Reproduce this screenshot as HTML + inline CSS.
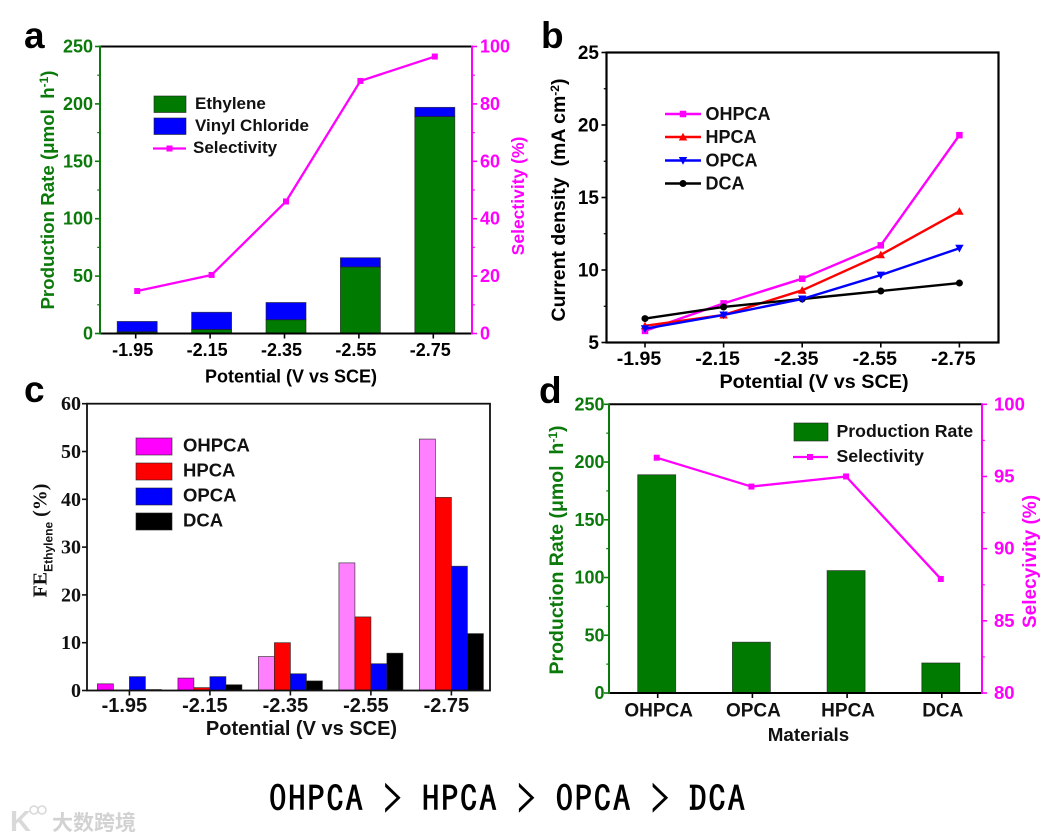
<!DOCTYPE html>
<html lang="en">
<head>
<meta charset="utf-8">
<title>Electrocatalysis comparison charts</title>
<style>
html,body{margin:0;padding:0;background:#fff;width:1046px;height:840px;overflow:hidden}
svg{display:block;font-family:"Liberation Sans",Arial,sans-serif;font-weight:bold}
</style>
</head>
<body>
<svg id="fig" xmlns="http://www.w3.org/2000/svg" width="1046" height="840" viewBox="0 0 1046 840"></svg>
<script>
// Shared categories
const potentials = ['-1.95', '-2.15', '-2.35', '-2.55', '-2.75'];
const materials = ['OHPCA', 'OPCA', 'HPCA', 'DCA'];

// Panel a
const aEthylene = [1.5, 3.5, 12, 58, 189];
const aVinylChloride = [9, 15, 15, 8, 8];
const aSelectivity = [14.8, 20.4, 46, 88, 96.5];
const aLeftTicks = [0, 50, 100, 150, 200, 250];
const aRightTicks = [0, 20, 40, 60, 80, 100];

// Panel b
const bOHPCA = [5.8, 7.7, 9.4, 11.7, 19.3];
const bHPCA = [6.15, 6.9, 8.6, 11.05, 14.05];
const bOPCA = [5.95, 6.9, 8.0, 9.65, 11.5];
const bDCA = [6.65, 7.45, 8.0, 8.55, 9.1];
const bTicks = [5, 10, 15, 20, 25];

// Panel c
const cOHPCA = [1.4, 2.6, 7.1, 26.7, 52.6];
const cHPCA = [0.1, 0.6, 10, 15.4, 40.4];
const cOPCA = [2.9, 2.9, 3.5, 5.6, 26];
const cDCA = [0.2, 1.2, 2, 7.8, 11.9];
const cTicks = [0, 10, 20, 30, 40, 50, 60];

// Panel d
const dRate = [189, 44, 106, 26];
const dSelectivity = [96.3, 94.3, 95, 87.9];
const dLeftTicks = [0, 50, 100, 150, 200, 250];
const dRightTicks = [80, 85, 90, 95, 100];

const GREEN = '#0b7a0b', BAR_GREEN = '#007a00', MAG = '#ff00ff', BLUE = '#0000ff', RED = '#ff0000';
const NS = 'http://www.w3.org/2000/svg';
const svg = document.getElementById('fig');

function mk(tag, attrs, name, parent) {
  const el = document.createElementNS(NS, tag);
  for (const k in attrs) el.setAttribute(k, attrs[k]);
  
  
  (parent || svg).appendChild(el);
  return el;
}
function line(x1, y1, x2, y2, color, w, name) {
  return mk('line', {x1: x1, y1: y1, x2: x2, y2: y2, stroke: color, 'stroke-width': w}, name);
}
function rect(x, y, w, h, fill, name, stroke) {
  return mk('rect', {x: x, y: y, width: w, height: h, fill: fill, stroke: stroke || '#222', 'stroke-width': 0.8, 'stroke-opacity': 0.75}, name);
}
function text(x, y, str, size, color, anchor, name, extra) {
  const a = Object.assign({x: x, y: y, 'font-size': size, fill: color, 'text-anchor': anchor || 'start'}, extra || {});
  const el = mk('text', a, name);
  el.textContent = str;
  return el;
}
function vtext(x, y, parts, size, color, name, extra) {
  // rotated label built from [string, dy, size] parts
  const a = Object.assign({x: 0, y: 0, 'font-size': size, fill: color, 'text-anchor': 'middle',
    style: 'white-space:pre',
    transform: 'translate(' + x + ',' + y + ') rotate(-90)'}, extra || {});
  const el = mk('text', a, name);
  parts.forEach(function (p, i) {
    const t = document.createElementNS(NS, 'tspan');
    t.textContent = p.s;
    if (p.dy) t.setAttribute('dy', p.dy);
    if (p.size) t.setAttribute('font-size', p.size);
    if (p.family) t.setAttribute('font-family', p.family);
    
    
    el.appendChild(t);
  });
  return el;
}
function marker(kind, x, y, color, s, name) {
  if (kind === 'square') return mk('rect', {x: x - s / 2, y: y - s / 2, width: s, height: s, fill: color}, name);
  if (kind === 'circle') return mk('circle', {cx: x, cy: y, r: s / 2, fill: color}, name);
  const d = kind === 'up' ? 1 : -1;
  const pts = [x - s * 0.6, y + d * s * 0.5, x + s * 0.6, y + d * s * 0.5, x, y - d * s * 0.6].join(' ');
  return mk('polygon', {points: pts, fill: color}, name);
}
function polyline(xs, ys, color, w, name) {
  const pts = xs.map(function (x, i) { return x + ',' + ys[i]; }).join(' ');
  return mk('polyline', {points: pts, fill: 'none', stroke: color, 'stroke-width': w, 'stroke-linejoin': 'round'}, name);
}
function linear(d0, d1, r0, r1) {
  return function (v) { return r0 + (v - d0) * (r1 - r0) / (d1 - d0); };
}
function band(first, step) {
  return function (i) { return first + i * step; };
}
function yTicks(ticks, y, x, dir, color, len, name) {
  ticks.forEach(function (t) { line(x, y(t), x + dir * len, y(t), color, 1.6, name + '-tick'); });
  for (let i = 0; i < ticks.length - 1; i++) {
    const m = (ticks[i] + ticks[i + 1]) / 2;
    line(x, y(m), x + dir * len * 0.55, y(m), color, 1.2, name + '-minor-tick');
  }
}

/* ---------- Panel a ---------- */
(function () {
  const L = 100, R = 472, T = 46.5, B = 333.5;
  const x = band(137.2, 74.4);
  const yL = linear(0, 250, B, T), yR = linear(0, 100, B, T);
  const w = 40;
  potentials.forEach(function (p, i) {
    const top = aEthylene[i] + aVinylChloride[i];
    rect(x(i) - w / 2, yL(aEthylene[i]), w, B - yL(aEthylene[i]), BAR_GREEN, 'bar-ethylene-' + p);
    rect(x(i) - w / 2, yL(top), w, yL(aEthylene[i]) - yL(top), BLUE, 'bar-vinyl-chloride-' + p);
  });
  line(L, T, R, T, '#000', 2, 'a-top-axis');
  line(L, B, R, B, '#000', 2, 'a-x-axis');
  line(L, T - 1, L, B + 1, GREEN, 2, 'a-left-axis');
  line(R, T - 1, R, B + 1, MAG, 2, 'a-right-axis');
  yTicks(aLeftTicks, yL, L, -1, GREEN, 5, 'a-left');
  yTicks(aRightTicks, yR, R, 1, MAG, 5, 'a-right');
  aLeftTicks.forEach(function (t) { text(93, yL(t) + 6, String(t), 18, GREEN, 'end', 'a-left-tick-label'); });
  aRightTicks.forEach(function (t) { text(480, yR(t) + 6, String(t), 18, MAG, 'start', 'a-right-tick-label'); });
  potentials.forEach(function (p, i) {
    line(x(i) - 1.5, B, x(i) - 1.5, B + 5, '#000', 1.6, 'a-x-tick');
    text(x(i) - 4.5, 356, p, 18, '#000', 'middle', 'a-x-tick-label');
  });
  polyline(potentials.map(function (p, i) { return x(i); }), aSelectivity.map(yR), MAG, 2.3, 'a-selectivity-line');
  aSelectivity.forEach(function (v, i) { marker('square', x(i), yR(v), MAG, 6, 'a-selectivity-point'); });
  text(291, 382.5, 'Potential (V vs SCE)', 18, '#000', 'middle', 'a-x-axis-title');
  vtext(54, 190, [{s: 'Production Rate (μmol  h'}, {s: '-1', dy: -6, size: 12}, {s: ')', dy: 6}], 18.7, GREEN, 'a-left-axis-title');
  vtext(524, 196, [{s: 'Selectivity (%)'}], 17.5, MAG, 'a-right-axis-title');
  rect(154, 96, 32, 16.5, BAR_GREEN, 'a-legend-ethylene-swatch');
  rect(154, 118, 32, 16.5, BLUE, 'a-legend-vinyl-swatch');
  line(153, 148.5, 186, 148.5, MAG, 2.3, 'a-legend-selectivity-line');
  marker('square', 169.5, 148.5, MAG, 6, 'a-legend-selectivity-marker');
  text(195, 109, 'Ethylene', 17, '#111', 'start', 'a-legend-ethylene');
  text(195, 131, 'Vinyl Chloride', 17, '#111', 'start', 'a-legend-vinyl-chloride');
  text(193, 153, 'Selectivity', 17, '#111', 'start', 'a-legend-selectivity');
  text(24, 48, 'a', 37, '#000', 'start', 'panel-label-a');
})();

/* ---------- Panel b ---------- */
(function () {
  const L = 606.5, R = 998.5, T = 52.5, B = 342.5;
  const x = band(645, 78.6);
  const y = linear(5, 25, B, T);
  mk('rect', {x: L, y: T, width: R - L, height: B - T, fill: 'none', stroke: '#000', 'stroke-width': 2.2}, 'b-plot-frame');
  yTicks(bTicks, y, L, -1, '#000', 5, 'b-y');
  bTicks.forEach(function (t) { text(599, y(t) + 6.5, String(t), 19, '#000', 'end', 'b-y-tick-label'); });
  potentials.forEach(function (p, i) {
    line(x(i), B, x(i), B + 5, '#000', 1.6, 'b-x-tick');
    text(x(i) - 6, 365, p, 19.5, '#000', 'middle', 'b-x-tick-label');
  });
  const xs = potentials.map(function (p, i) { return x(i); });
  const series = [
    {n: 'ohpca', v: bOHPCA, c: MAG, m: 'square', s: 6.5},
    {n: 'hpca', v: bHPCA, c: RED, m: 'up', s: 7},
    {n: 'dca', v: bDCA, c: '#000', m: 'circle', s: 7},
    {n: 'opca', v: bOPCA, c: BLUE, m: 'down', s: 7}
  ];
  series.forEach(function (d) {
    polyline(xs, d.v.map(y), d.c, 2.4, 'b-line-' + d.n);
    d.v.forEach(function (v, i) { marker(d.m, x(i), y(v), d.c, d.s, 'b-point-' + d.n); });
  });
  const leg = [
    {t: 'OHPCA', c: MAG, m: 'square', s: 6.5, y: 114},
    {t: 'HPCA', c: RED, m: 'up', s: 7, y: 137},
    {t: 'OPCA', c: BLUE, m: 'down', s: 7, y: 160.5},
    {t: 'DCA', c: '#000', m: 'circle', s: 7, y: 183.5}
  ];
  leg.forEach(function (l) {
    line(665, l.y, 701, l.y, l.c, 2.4, 'b-legend-line-' + l.t.toLowerCase());
    marker(l.m, 683, l.y, l.c, l.s, 'b-legend-marker-' + l.t.toLowerCase());
    text(705.5, l.y + 5.8, l.t, 18, '#111', 'start', 'b-legend-' + l.t.toLowerCase());
  });
  text(814, 388, 'Potential (V vs SCE)', 19.8, '#000', 'middle', 'b-x-axis-title');
  vtext(565, 200, [{s: 'Current density  (mA cm'}, {s: '-2', dy: -6, size: 12}, {s: ')', dy: 6}], 19.5, '#000', 'b-y-axis-title');
  text(541, 48, 'b', 37, '#000', 'start', 'panel-label-b');
})();

/* ---------- Panel c ---------- */
(function () {
  const L = 87, R = 490, T = 403.7, B = 690.5;
  const x = band(97.4, 80.5);
  const y = linear(0, 60, B, T);
  const w = 16;
  const series = [
    {n: 'ohpca', v: cOHPCA, c: function (i) { return i < 2 ? MAG : '#ff80ff'; }},
    {n: 'hpca', v: cHPCA, c: function () { return RED; }},
    {n: 'opca', v: cOPCA, c: function () { return BLUE; }},
    {n: 'dca', v: cDCA, c: function () { return '#000'; }}
  ];
  series.forEach(function (d, k) {
    d.v.forEach(function (v, i) {
      rect(x(i) + k * w, y(v), w, B - y(v), d.c(i), 'bar-' + d.n + '-' + potentials[i]);
    });
  });
  mk('rect', {x: L, y: T, width: R - L, height: B - T, fill: 'none', stroke: '#111', 'stroke-width': 1.8}, 'c-plot-frame');
  cTicks.forEach(function (t) {
    line(L, y(t), L - 5, y(t), '#111', 1.6, 'c-y-tick');
    text(81, y(t) + 6.5, String(t), 20, '#111', 'end', 'c-y-tick-label', {'font-family': '"Liberation Serif",serif'});
  });
  potentials.forEach(function (p, i) {
    line(x(i) + 32, B, x(i) + 32, B + 5, '#111', 1.6, 'c-x-tick');
    text(x(i) + 27, 712, p, 20, '#111', 'middle', 'c-x-tick-label');
  });
  vtext(46.5, 540.5, [
    {s: 'FE', family: '"Liberation Serif",serif', size: 20},
    {s: 'Ethylene', dy: 6, size: 12},
    {s: ' (%)', dy: -6, family: '"Liberation Serif",serif', size: 20}
  ], 20, '#111', 'c-y-axis-title');
  const leg = [
    {t: 'OHPCA', c: MAG, y: 438},
    {t: 'HPCA', c: RED, y: 463},
    {t: 'OPCA', c: BLUE, y: 488},
    {t: 'DCA', c: '#000', y: 513}
  ];
  leg.forEach(function (l) {
    rect(136, l.y, 36, 17, l.c, 'c-legend-swatch-' + l.t.toLowerCase());
    text(183, l.y + 13.6, l.t, 18.5, '#111', 'start', 'c-legend-' + l.t.toLowerCase());
  });
  text(301.5, 735, 'Potential (V vs SCE)', 20, '#111', 'middle', 'c-x-axis-title');
  text(24, 402, 'c', 37, '#000', 'start', 'panel-label-c');
})();

/* ---------- Panel d ---------- */
(function () {
  const L = 609, R = 982, T = 404.3, B = 693;
  const x = band(656.7, 94.7);
  const yL = linear(0, 250, B, T), yR = linear(80, 100, B, T);
  const w = 38;
  materials.forEach(function (m, i) {
    rect(x(i) - w / 2, yL(dRate[i]), w, B - yL(dRate[i]), BAR_GREEN, 'bar-rate-' + m.toLowerCase());
  });
  line(L, T, R, T, '#000', 2, 'd-top-axis');
  line(L, B, R, B, '#000', 2, 'd-x-axis');
  line(L, T - 1, L, B + 1, GREEN, 2, 'd-left-axis');
  line(R, T - 1, R, B + 1, MAG, 2, 'd-right-axis');
  yTicks(dLeftTicks, yL, L, -1, GREEN, 5, 'd-left');
  yTicks(dRightTicks, yR, R, 1, MAG, 5, 'd-right');
  dLeftTicks.forEach(function (t) { text(604.5, yL(t) + 6, String(t), 18, GREEN, 'end', 'd-left-tick-label'); });
  dRightTicks.forEach(function (t) { text(994, yR(t) + 6, String(t), 18.5, MAG, 'start', 'd-right-tick-label'); });
  materials.forEach(function (m, i) {
    line(x(i) + 1, B, x(i) + 1, B + 5, '#000', 1.6, 'd-x-tick');
    text(x(i) + 2, 716.5, m, 19, '#111', 'middle', 'd-x-tick-label');
  });
  polyline(materials.map(function (m, i) { return x(i); }), dSelectivity.map(yR), MAG, 2.3, 'd-selectivity-line');
  dSelectivity.forEach(function (v, i) { marker('square', x(i), yR(v), MAG, 6, 'd-selectivity-point'); });
  text(808.5, 741, 'Materials', 18.8, '#111', 'middle', 'd-x-axis-title');
  vtext(563, 550, [{s: 'Production Rate (μmol  h'}, {s: '-1', dy: -6, size: 12}, {s: ')', dy: 6}], 19.5, GREEN, 'd-left-axis-title');
  vtext(1036, 561.5, [{s: 'Selecyivity (%)'}], 19, MAG, 'd-right-axis-title');
  rect(794, 423, 34, 18, BAR_GREEN, 'd-legend-rate-swatch');
  line(793, 457, 828, 457, MAG, 2.3, 'd-legend-selectivity-line');
  marker('square', 810, 457, MAG, 6, 'd-legend-selectivity-marker');
  text(836.5, 437, 'Production Rate', 17.7, '#111', 'start', 'd-legend-rate');
  text(836.5, 462, 'Selectivity', 17.7, '#111', 'start', 'd-legend-selectivity');
  text(539, 403, 'd', 37, '#000', 'start', 'panel-label-d');
})();

/* ---------- Ranking caption and watermark ---------- */
(function () {
  text(269, 811, 'OHPCA > HPCA > OPCA > DCA', 35, '#000', 'start', 'ranking-caption', {
    'font-family': '"IPAGothic","WenQuanYi Zen Hei",monospace',
    'font-weight': 'normal', textLength: 476, lengthAdjust: 'spacing',
    stroke: '#000', 'stroke-width': 0.7
  });
  text(10, 831, 'K', 29, '#d9d9d9', 'start', 'watermark-logo-letter', {'font-weight': 'bold'});
  mk('circle', {cx: 34, cy: 810, r: 4, fill: 'none', stroke: '#d9d9d9', 'stroke-width': 1.6}, 'watermark-logo-ring');
  mk('circle', {cx: 42, cy: 810, r: 4, fill: 'none', stroke: '#d9d9d9', 'stroke-width': 1.6}, 'watermark-logo-ring');
  text(52, 830, '大数跨境', 21, '#d2d2d2', 'start', 'watermark-text', {
    'font-family': '"Liberation Sans","Noto Sans CJK SC",sans-serif', 'font-weight': 'bold'
  });
})();
</script>
</body>
</html>
